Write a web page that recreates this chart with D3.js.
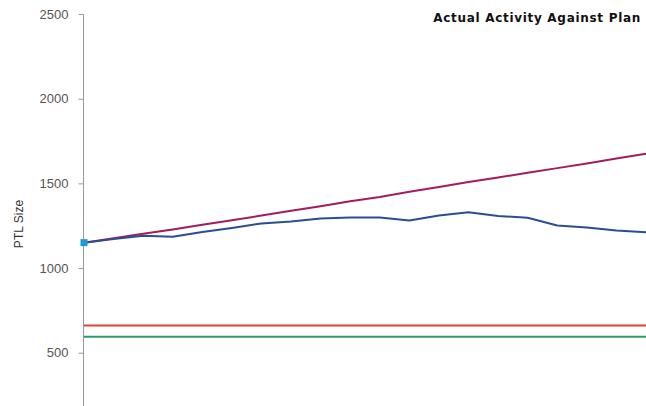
<!DOCTYPE html>
<html><head><meta charset="utf-8">
<script src="https://cdn.jsdelivr.net/npm/d3@7"></script>
<style>body{margin:0;background:#fff;overflow:hidden}svg{display:block}</style>
</head><body>
<svg id="c" width="646" height="406"></svg>
<script>
const periods = d3.range(1, 21);
const actual = [1150,1172,1191,1185,1213,1237,1263,1275,1293,1299,1299,1281,1310,1329,1307,1297,1251,1240,1221,1211];
const plan = [1150,1176,1203,1228,1255,1282,1310,1338,1365,1395,1420,1450,1478,1508,1535,1562,1590,1617,1647,1675];
const upperLimit = periods.map(() => 660);
const lowerLimit = periods.map(() => 595);
const yTicks = [500,1000,1500,2000,2500];
const title = "Actual Activity Against Plan";
const yLabel = "PTL Size";

const svg = d3.select("#c");
const x = d3.scaleLinear().domain([1, 20]).range([84, 646]);
const y = d3.scaleLinear().domain([0, 2500]).range([437.4, 14]);

const yAxis = d3.axisLeft(y).tickValues(yTicks).tickSize(5).tickPadding(10).tickFormat(d3.format("d"));
const ga = svg.append("g").attr("transform", "translate(83.5,0)").call(yAxis);
ga.select(".domain").attr("d", "M0,14V406").attr("stroke", "#999");
ga.selectAll(".tick line").attr("stroke", "#999");
ga.selectAll(".tick text").attr("fill", "#555").style("font-family", "Liberation Sans, Arial, sans-serif").style("font-size", "13px");

const line = d3.line().x((d, i) => x(periods[i])).y(d => y(d));
const draw = (data, color) => svg.append("path").datum(data).attr("d", line)
  .attr("fill", "none").attr("stroke", color).attr("stroke-width", 2).attr("stroke-linejoin", "round");

draw(upperLimit, "#d9482f");
draw(lowerLimit, "#2f9a6b");
draw(plan, "#a31d5c");
draw(actual, "#2a4d93");

svg.append("rect").attr("x", x(periods[0]) - 3.5).attr("y", y(actual[0]) - 3.5)
  .attr("width", 7).attr("height", 7).attr("fill", "#1b9ad3");

svg.append("text").attr("x", 641).attr("y", 22).attr("text-anchor", "end")
  .style("font-family", "DejaVu Sans, sans-serif").style("font-size", "12px")
  .style("letter-spacing", "0.7px")
  .style("font-weight", "bold").attr("fill", "#111").text(title);

svg.append("text").attr("transform", "translate(23,224) rotate(-90)").attr("text-anchor", "middle")
  .style("font-family", "Liberation Sans, Arial, sans-serif").style("font-size", "12px")
  .attr("fill", "#333").text(yLabel);
</script>
</body></html>
